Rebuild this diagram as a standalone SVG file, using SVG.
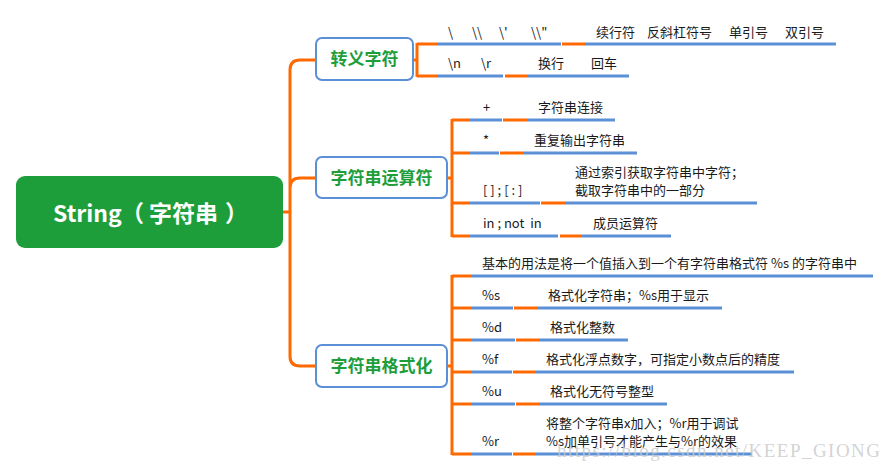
<svg xmlns="http://www.w3.org/2000/svg" width="888" height="471" viewBox="0 0 888 471">
<style>
.o{fill:none;stroke:#FF6A00;stroke-width:3}
.b{fill:none;stroke:#5B8FD6;stroke-width:3}
.nb{fill:#fff;stroke:#5B8FD6;stroke-width:2}
.nt{font-family:"Noto Sans CJK SC","Noto Sans",sans-serif;font-weight:bold;font-size:17px;fill:#1E9E3A;text-anchor:middle}
.t{font-family:"Noto Sans CJK SC","Noto Sans",sans-serif;font-size:13px;fill:#1a1a1a;white-space:pre}
</style>
<rect width="888" height="471" fill="#fff"/>
<g id="connectors">
<path class="o" d="M283,212 H290 M290,212 V70 Q290,60 300,60 H316 M290,212 V188 Q290,178 300,178 H316 M290,212 V356 Q290,366 300,366 H316"/>
<path class="o" d="M413,60 H417 M417,43 V77 M417,44 H437 M417,76 H437"/>
<path class="o" d="M447,178 H452 M452,119 V237 M452,120 H470 M452,153 H470 M452,203 H470 M452,236 H470"/>
<path class="o" d="M447,366 H452 M452,275 V455 M452,276 H471 M452,308 H471 M452,340 H471 M452,372 H471 M452,404 H471 M452,454 H471"/>
<path class="o" d="M562,44 H585 M505,76 H527 M503,120 H528 M500,153 H523 M541,203 H565 M560,236 H582 M514,308 H538 M516,340 H540 M513,372 H536 M516,404 H540 M513,454 H536"/>
<path class="b" d="M437,44 H561 M585,44 H836 M437,76 H503 M527,76 H629 M470,120 H502 M528,120 H615 M470,153 H499 M523,153 H637 M470,203 H540 M565,203 H757 M470,236 H558 M582,236 H671 M471,276 H873 M471,308 H513 M538,308 H722 M471,340 H515 M540,340 H628 M471,372 H512 M536,372 H794 M471,404 H515 M540,404 H667 M471,454 H512 M536,454 H752"/>
</g>
<g id="root">
<rect x="16" y="176" width="267" height="72" rx="9" fill="#1E9E3A"/>
<text y="222" font-family="'Noto Sans CJK SC','Noto Sans',sans-serif" font-weight="bold" font-size="23" fill="#fff"><tspan x="53">String</tspan><tspan x="121">（</tspan><tspan x="149">字符串</tspan><tspan x="225">）</tspan></text>
</g>
<g id="escape">
<rect class="nb" x="316" y="38" width="97" height="42" rx="6"/>
<text class="nt" x="364.5" y="65">转义字符</text>
</g>
<g id="operators">
<rect class="nb" x="316" y="157" width="131" height="41" rx="6"/>
<text class="nt" x="381.5" y="184">字符串运算符</text>
</g>
<g id="format">
<rect class="nb" x="316" y="345" width="131" height="42" rx="6"/>
<text class="nt" x="381.5" y="372">字符串格式化</text>
</g>
<g id="escape-leaves">
<text class="t" y="36.5"><tspan x="448">\</tspan><tspan x="472">\\</tspan><tspan x="499">\'</tspan><tspan x="531">\\"</tspan></text>
<text class="t" y="36.5"><tspan x="596">续行符</tspan><tspan x="647">反斜杠符号</tspan><tspan x="729">单引号</tspan><tspan x="785">双引号</tspan></text>
<text class="t" y="68"><tspan x="448">\n</tspan><tspan x="481">\r</tspan></text>
<text class="t" y="68"><tspan x="538">换行</tspan><tspan x="591">回车</tspan></text>
</g>
<g id="operator-leaves">
<text class="t" x="483" y="112">+</text>
<text class="t" x="538" y="112">字符串连接</text>
<text class="t" x="483" y="145">*</text>
<text class="t" x="534" y="145">重复输出字符串</text>
<text class="t" x="575" y="177">通过索引获取字符串中字符；</text>
<text class="t" x="575" y="195">截取字符串中的一部分</text>
<text class="t" x="483" y="195">[ ] ; [ : ]</text>
<text class="t" x="483" y="228">in ; not  in</text>
<text class="t" x="593" y="228">成员运算符</text>
</g>
<g id="format-leaves">
<text class="t" x="482" y="268">基本的用法是将一个值插入到一个有字符串格式符 %s 的字符串中</text>
<text class="t" x="482" y="300">%s</text>
<text class="t" x="548" y="300">格式化字符串；%s用于显示</text>
<text class="t" x="482" y="332">%d</text>
<text class="t" x="550" y="332">格式化整数</text>
<text class="t" x="482" y="364">%f</text>
<text class="t" x="546" y="364">格式化浮点数字，可指定小数点后的精度</text>
<text class="t" x="482" y="396">%u</text>
<text class="t" x="550" y="396">格式化无符号整型</text>
<text class="t" x="546" y="428">将整个字符串x加入；%r用于调试</text>
<text class="t" x="546" y="446">%s加单引号才能产生与%r的效果</text>
<text class="t" x="482" y="446">%r</text>
</g>
<text x="557" y="457" font-family="'Liberation Serif',serif" font-size="19" fill="#c8c8c8" fill-opacity="0.8" textLength="323" lengthAdjust="spacing">https://blog.csdn.net/KEEP_GIONG</text>
</svg>
